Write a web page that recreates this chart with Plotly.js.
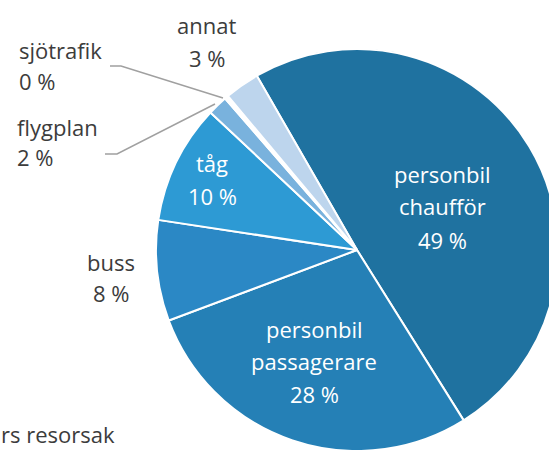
<!DOCTYPE html>
<html>
<head>
<meta charset="utf-8">
<script src="https://cdn.plot.ly/plotly-3.0.1.min.js"></script>
<style>
html,body{margin:0;padding:0;overflow:hidden;background:#fff;width:549px;height:450px;}
#chart{width:600px;height:460px;}
</style>
</head>
<body>
<div id="chart"></div>
<script>
// Data
var categories = ["personbil chaufför", "personbil passagerare", "buss", "tåg", "flygplan", "sjötrafik", "annat"];
var labelLines = [["personbil", "chaufför"], ["personbil", "passagerare"], ["buss"], ["tåg"], ["flygplan"], ["sjötrafik"], ["annat"]];
var shares = [49.4, 28.2, 8.1, 9.6, 1.6, 0.3, 2.8];
var sliceColors = ["#1f72a0", "#2580b6", "#2b88c5", "#2d9ad4", "#79b2dd", "#ffffff", "#bdd5ed"];

var W = 600, H = 460;
var cx = 357, cy = 250, R = 201;
function px(x){ return x / W; }
function py(y){ return 1 - y / H; }

var pie = {
  type: "pie",
  labels: categories,
  values: shares,
  sort: false,
  direction: "clockwise",
  rotation: -29.9,
  marker: { colors: sliceColors, line: { color: "#ffffff", width: 2 } },
  textinfo: "none",
  hoverinfo: "label+percent",
  showlegend: false,
  domain: { x: [px(cx - R), px(cx + R)], y: [py(cy + R), py(cy - R)] }
};

// label placement (pixel centres per line, layout only)
var place = [
  { x: 442, ys: [174, 206, 240], anchor: "center", inside: true },
  { x: 314, ys: [329, 361, 394], anchor: "center", inside: true },
  { x: 111, ys: [262, 293], anchor: "center", inside: false },
  { x: 212, ys: [163, 196], anchor: "center", inside: true },
  { x: 15, ys: [127, 157], anchor: "left", inside: false },
  { x: 17, ys: [50, 81], anchor: "left", inside: false },
  { x: 207, ys: [25, 58], anchor: "center", inside: false }
];

var annotations = [];
var total = shares.reduce(function(a, b){ return a + b; }, 0);
for (var i = 0; i < categories.length; i++) {
  var lines = labelLines[i].concat([Math.round(shares[i] / total * 100) + " %"]);
  var p = place[i];
  for (var j = 0; j < lines.length; j++) {
    annotations.push({
      xref: "paper", yref: "paper",
      x: px(p.x), y: py(p.ys[j]),
      xanchor: p.anchor, yanchor: "middle",
      text: lines[j], showarrow: false,
      font: { family: "Open Sans, Noto Sans, sans-serif", size: 22, color: p.inside ? "#ffffff" : "#3c3c3c" }
    });
  }
}
annotations.push({
  xref: "paper", yref: "paper", x: px(117), y: py(434),
  xanchor: "right", yanchor: "middle", text: "rs resorsak", showarrow: false,
  font: { family: "Open Sans, Noto Sans, sans-serif", size: 22, color: "#3c3c3c" }
});

var lineStyle = { color: "#a0a0a0", width: 1.5 };
var shapes = [
  { type: "path", xref: "paper", yref: "paper", line: lineStyle,
    path: "M " + px(110) + " " + py(66) + " L " + px(121) + " " + py(66) + " L " + px(223) + " " + py(98) },
  { type: "path", xref: "paper", yref: "paper", line: lineStyle,
    path: "M " + px(105) + " " + py(154) + " L " + px(117) + " " + py(154) + " L " + px(215) + " " + py(104) }
];

var layout = {
  width: W, height: H,
  margin: { l: 0, r: 0, t: 0, b: 0 },
  paper_bgcolor: "#ffffff",
  annotations: annotations,
  shapes: shapes
};

Plotly.newPlot("chart", [pie], layout, { displayModeBar: false, staticPlot: true });
</script>
</body>
</html>
